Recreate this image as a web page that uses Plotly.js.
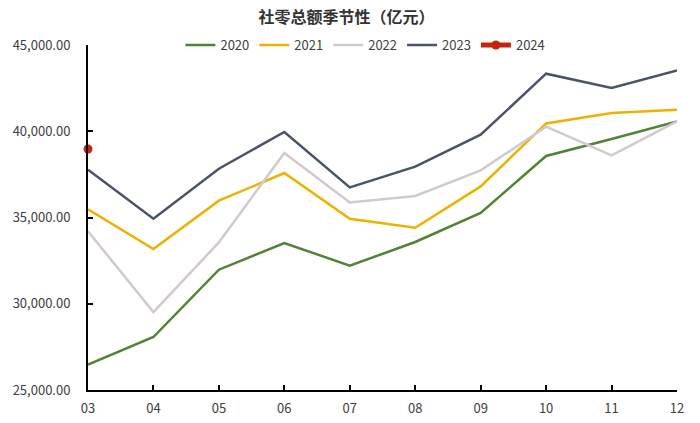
<!DOCTYPE html>
<html>
<head>
<meta charset="utf-8">
<script src="https://cdn.plot.ly/plotly-3.0.1.min.js"></script>
<style>html,body{margin:0;padding:0;background:#fff;}#chart{width:700px;height:423px;}</style>
</head>
<body>
<div id="chart"></div>
<script>
const months = ["03","04","05","06","07","08","09","10","11","12"];
const y2020 = [26467, 28072, 31974, 33522, 32206, 33580, 35261, 38565, 39551, 40571];
const y2021 = [35470, 33174, 35974, 37580, 34930, 34409, 36803, 40455, 41058, 41249];
const y2022 = [34200, 29522, 33557, 38739, 35875, 36246, 37731, 40264, 38600, 40571];
const y2023 = [37771, 34930, 37829, 39957, 36745, 37945, 39800, 43336, 42508, 43528];
const y2024 = [38971];
const seriesNames = ["2020","2021","2022","2023","2024"];
const colors = ["#548235","#EDB100","#D2C9CC","#4A5466","#C4260C"];

const lineSeries = [y2020, y2021, y2022, y2023];
const traces = lineSeries.map((ys, i) => ({
  x: months, y: ys, type: "scatter", mode: "lines", name: seriesNames[i],
  line: {color: colors[i], width: 2.5}, hoverinfo: "skip"
}));
traces.push({
  x: months.slice(0, y2024.length), y: y2024, type: "scatter", mode: "lines+markers",
  name: seriesNames[4], line: {color: colors[4], width: 5},
  marker: {color: colors[4], size: 9}, cliponaxis: false
});

const font = "'Noto Sans CJK SC','Noto Sans',sans-serif";
const layout = {
  width: 700, height: 423,
  margin: {l: 88, r: 23, t: 45, b: 33},
  paper_bgcolor: "#fff", plot_bgcolor: "#fff",
  title: {text: "<b>社零总额季节性（亿元）</b>", x: 0.495, xanchor: "center", y: 0.96, yanchor: "middle",
          font: {family: font, size: 16, color: "#333"}},
  showlegend: true,
  legend: {orientation: "h", x: 0.471, xanchor: "center", y: 1.0, yanchor: "middle",
           font: {family: font, size: 13, color: "#404040"}, itemwidth: 30, tracegroupgap: 0,
           bgcolor: "rgba(0,0,0,0)"},
  xaxis: {type: "category", range: [0, months.length - 1], showgrid: false, zeroline: false,
          showline: true, linecolor: "#000", linewidth: 2, ticks: "inside", ticklen: 5, tickwidth: 2,
          tickcolor: "#000", tickfont: {family: font, size: 13, color: "#404040"},
          ticklabelstandoff: 5, fixedrange: true},
  yaxis: {range: [25000, 45000], dtick: 5000, tickformat: ",.2f", showgrid: false, zeroline: false,
          showline: true, linecolor: "#000", linewidth: 2, ticks: "inside", ticklen: 5, tickwidth: 2,
          tickcolor: "#000", tickfont: {family: font, size: 13, color: "#404040"},
          ticklabelstandoff: 13, fixedrange: true}
};
Plotly.newPlot("chart", traces, layout, {displayModeBar: false, staticPlot: true});
</script>
</body>
</html>
